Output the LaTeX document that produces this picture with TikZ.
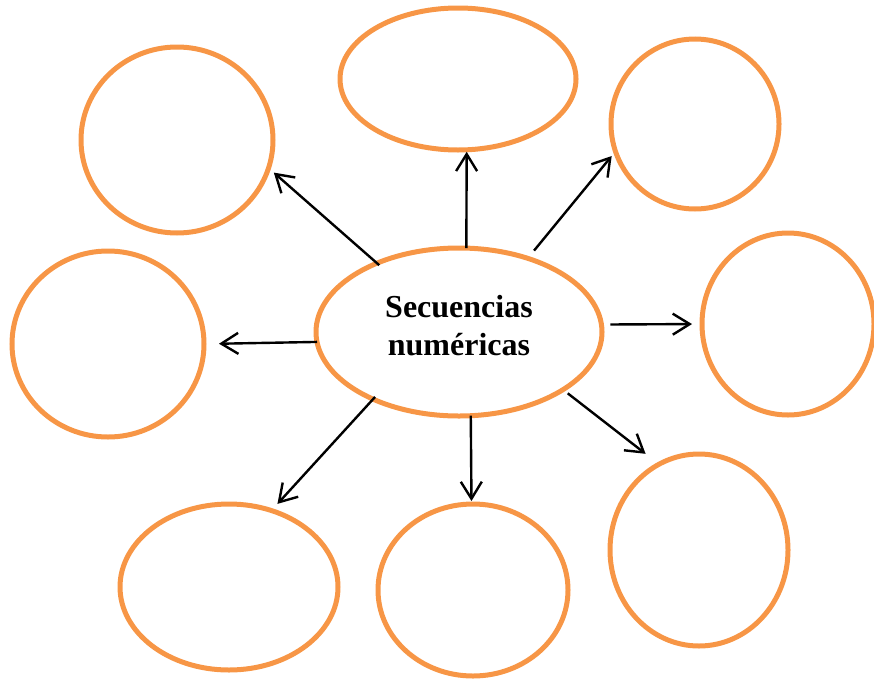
\documentclass[tikz,border=0pt]{standalone}
\usepackage{fontspec}
\setmainfont{Liberation Serif}
\usetikzlibrary{shapes.geometric,arrows.meta}
\definecolor{bubbleorange}{RGB}{247,150,70}
\tikzstyle{bubble}=[draw=bubbleorange, line width=5pt, ellipse, inner sep=0, outer sep=0]
\tikzstyle{link}=[draw, line width=2.4pt, -{Straight Barb[length=17pt,width=21pt]}]
\begin{document}
\begin{tikzpicture}[x=1pt, y=-1pt]
        \useasboundingbox (0,0) rectangle (874,680);
        % Central topic.
        \node[bubble, minimum width=286pt, minimum height=168pt] (sec) at (459,332) {};
        \node[font=\bfseries\fontsize{32}{38}\selectfont, align=center] (title) at (459,326) {Secuencias\\num\'ericas};
        % Surrounding bubbles.
        \node[bubble, minimum width=192pt, minimum height=186pt] (tl) at (177,140) {};
        \node[bubble, minimum width=236pt, minimum height=142pt] (top) at (458,79) {};
        \node[bubble, minimum width=168pt, minimum height=170pt] (tr) at (695,124) {};
        \node[bubble, minimum width=172pt, minimum height=182pt] (rt) at (788,324) {};
        \node[bubble, minimum width=192pt, minimum height=186pt] (lt) at (108,344) {};
        \node[bubble, minimum width=218pt, minimum height=166pt] (bl) at (229,587) {};
        \node[bubble, minimum width=190pt, minimum height=172pt] (bot) at (473,590) {};
        \node[bubble, minimum width=178pt, minimum height=192pt] (br) at (699,550) {};
        % Arrows.
        \draw[link, shorten <=-3pt, shorten >=7pt] (sec.140) -- (tl.-17);
        \draw[link, shorten >=2pt] (sec.85) -- (top.-83);
        \draw[link, shorten <=10pt, shorten >=6pt] (sec.47) -- (tr.199);
        \draw[link, shorten <=9pt, shorten >=10pt] (sec.3) -- (rt.180);
        \draw[link, shorten >=15pt] (sec.184) -- (lt.0);
        \draw[link, shorten <=-3pt, shorten >=9pt] (sec.218) -- (bl.61.6);
        \draw[link, shorten >=3pt] (sec.278) -- (bot.91);
        \draw[link, shorten <=6pt, shorten >=17pt] (sec.331.6) -- (br.115.4);
\end{tikzpicture}
\end{document}
